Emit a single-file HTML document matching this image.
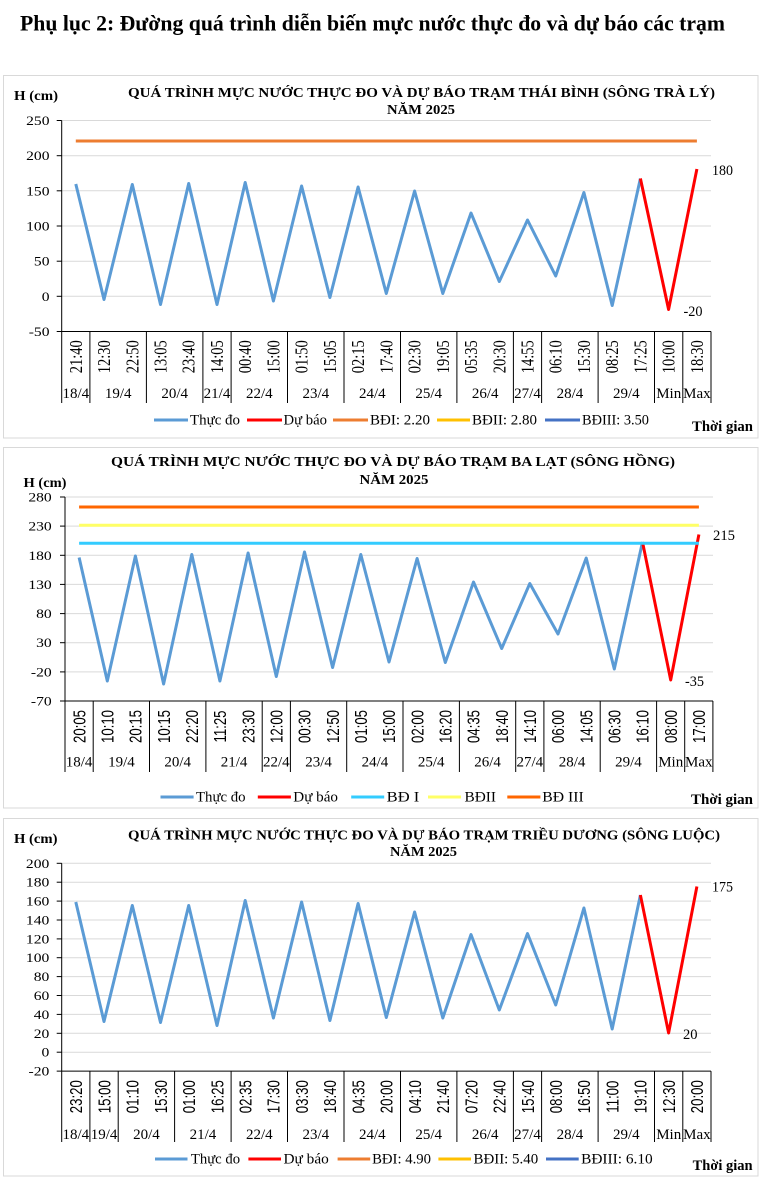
<!DOCTYPE html>
<html>
<head>
<meta charset="utf-8">
<style>
html,body{margin:0;padding:0;background:#fff;}
svg{display:block;}
.t{font-family:"Liberation Serif","Times New Roman",serif;fill:#000;}
.s{font-family:"Liberation Sans",Arial,sans-serif;fill:#000;}
.b{font-weight:bold;}
</style>
</head>
<body>
<svg width="763" height="1185" viewBox="0 0 763 1185" xmlns="http://www.w3.org/2000/svg">
<rect x="0" y="0" width="763" height="1185" fill="#fff"/>

<!-- Page title -->
<text class="t b" x="20" y="30.5" font-size="22" textLength="705" lengthAdjust="spacingAndGlyphs">Phụ lục 2: Đường quá trình diễn biến mực nước thực đo và dự báo các trạm</text>

<!-- ================= CHART 1 ================= -->
<rect x="3.5" y="75.5" width="754.5" height="362.5" fill="#fff" stroke="#d9d9d9" stroke-width="1"/>
<text class="t b" x="14" y="100" font-size="14" textLength="44" lengthAdjust="spacingAndGlyphs">H (cm)</text>
<text class="t b" x="128" y="97" font-size="13.5" textLength="587" lengthAdjust="spacingAndGlyphs">QUÁ TRÌNH MỰC NƯỚC THỰC ĐO VÀ DỰ BÁO TRẠM THÁI BÌNH (SÔNG TRÀ LÝ)</text>
<text class="t b" x="387" y="114" font-size="13.5" textLength="68" lengthAdjust="spacingAndGlyphs">NĂM 2025</text>

<g stroke="#d9d9d9" stroke-width="1">
<line x1="61.7" y1="120.5" x2="711" y2="120.5"/>
<line x1="61.7" y1="155.7" x2="711" y2="155.7"/>
<line x1="61.7" y1="190.8" x2="711" y2="190.8"/>
<line x1="61.7" y1="226" x2="711" y2="226"/>
<line x1="61.7" y1="261.2" x2="711" y2="261.2"/>
<line x1="61.7" y1="296.3" x2="711" y2="296.3"/>
</g>
<g stroke="#000" stroke-width="1">
<line x1="61.7" y1="120.5" x2="61.7" y2="331.5"/>
<line x1="56.7" y1="120.5" x2="61.7" y2="120.5"/>
<line x1="56.7" y1="155.7" x2="61.7" y2="155.7"/>
<line x1="56.7" y1="190.8" x2="61.7" y2="190.8"/>
<line x1="56.7" y1="226" x2="61.7" y2="226"/>
<line x1="56.7" y1="261.2" x2="61.7" y2="261.2"/>
<line x1="56.7" y1="296.3" x2="61.7" y2="296.3"/>
<line x1="56.7" y1="331.5" x2="711" y2="331.5"/>
<line x1="61.7" y1="331.5" x2="61.7" y2="403"/>
<line x1="89.9" y1="331.5" x2="89.9" y2="403"/>
<line x1="146.4" y1="331.5" x2="146.4" y2="403"/>
<line x1="202.9" y1="331.5" x2="202.9" y2="403"/>
<line x1="231.1" y1="331.5" x2="231.1" y2="403"/>
<line x1="287.5" y1="331.5" x2="287.5" y2="403"/>
<line x1="344" y1="331.5" x2="344" y2="403"/>
<line x1="400.5" y1="331.5" x2="400.5" y2="403"/>
<line x1="456.9" y1="331.5" x2="456.9" y2="403"/>
<line x1="513.4" y1="331.5" x2="513.4" y2="403"/>
<line x1="541.6" y1="331.5" x2="541.6" y2="403"/>
<line x1="598.1" y1="331.5" x2="598.1" y2="403"/>
<line x1="654.5" y1="331.5" x2="654.5" y2="403"/>
<line x1="682.8" y1="331.5" x2="682.8" y2="403"/>
<line x1="711" y1="331.5" x2="711" y2="403"/>
</g>
<g class="t" font-size="13" text-anchor="end">
<text transform="translate(49.5,125) scale(1.2,1)">250</text>
<text transform="translate(49.5,160.2) scale(1.2,1)">200</text>
<text transform="translate(49.5,195.3) scale(1.2,1)">150</text>
<text transform="translate(49.5,230.5) scale(1.2,1)">100</text>
<text transform="translate(49.5,265.7) scale(1.2,1)">50</text>
<text transform="translate(49.5,300.8) scale(1.2,1)">0</text>
<text transform="translate(49.5,336) scale(1.2,1)">-50</text>
</g>
<g class="t" font-size="14.5" text-anchor="middle">
<text transform="translate(81.8,356.7) scale(1.22,1) rotate(-90)">21:40</text>
<text transform="translate(110,356.7) scale(1.22,1) rotate(-90)">12:30</text>
<text transform="translate(138.3,356.7) scale(1.22,1) rotate(-90)">22:50</text>
<text transform="translate(166.5,356.7) scale(1.22,1) rotate(-90)">13:05</text>
<text transform="translate(194.7,356.7) scale(1.22,1) rotate(-90)">23:40</text>
<text transform="translate(223,356.7) scale(1.22,1) rotate(-90)">14:05</text>
<text transform="translate(251.2,356.7) scale(1.22,1) rotate(-90)">00:40</text>
<text transform="translate(279.4,356.7) scale(1.22,1) rotate(-90)">15:00</text>
<text transform="translate(307.6,356.7) scale(1.22,1) rotate(-90)">01:50</text>
<text transform="translate(335.9,356.7) scale(1.22,1) rotate(-90)">15:05</text>
<text transform="translate(364.1,356.7) scale(1.22,1) rotate(-90)">02:15</text>
<text transform="translate(392.3,356.7) scale(1.22,1) rotate(-90)">17:40</text>
<text transform="translate(420.6,356.7) scale(1.22,1) rotate(-90)">02:30</text>
<text transform="translate(448.8,356.7) scale(1.22,1) rotate(-90)">19:05</text>
<text transform="translate(477,356.7) scale(1.22,1) rotate(-90)">05:35</text>
<text transform="translate(505.3,356.7) scale(1.22,1) rotate(-90)">20:30</text>
<text transform="translate(533.5,356.7) scale(1.22,1) rotate(-90)">14:55</text>
<text transform="translate(561.7,356.7) scale(1.22,1) rotate(-90)">06:10</text>
<text transform="translate(589.9,356.7) scale(1.22,1) rotate(-90)">15:30</text>
<text transform="translate(618.2,356.7) scale(1.22,1) rotate(-90)">08:25</text>
<text transform="translate(646.4,356.7) scale(1.22,1) rotate(-90)">17:25</text>
<text transform="translate(674.6,356.7) scale(1.22,1) rotate(-90)">10:00</text>
<text transform="translate(702.9,356.7) scale(1.22,1) rotate(-90)">18:30</text>
</g>
<g class="t" font-size="15" text-anchor="middle">
<text x="75.8" y="398">18/4</text>
<text x="118.2" y="398">19/4</text>
<text x="174.7" y="398">20/4</text>
<text x="217" y="398">21/4</text>
<text x="259.3" y="398">22/4</text>
<text x="315.8" y="398">23/4</text>
<text x="372.3" y="398">24/4</text>
<text x="428.7" y="398">25/4</text>
<text x="485.2" y="398">26/4</text>
<text x="527.5" y="398">27/4</text>
<text x="569.9" y="398">28/4</text>
<text x="626.3" y="398">29/4</text>
<text x="668.7" y="398">Min</text>
<text x="696.9" y="398">Max</text>
</g>
<polyline fill="none" stroke="#5B9BD5" stroke-width="3" stroke-linejoin="round" points="75.8,184 104.0,299.5 132.3,184.5 160.5,304.5 188.7,183.5 217.0,304.5 245.2,182.5 273.4,301 301.6,186 329.9,297.5 358.1,187 386.3,293.5 414.6,191 442.8,293.5 471.0,213 499.3,281.5 527.5,220 555.7,276 583.9,192.5 612.2,305.5 640.4,178.5"/>
<polyline fill="none" stroke="#FF0000" stroke-width="3" stroke-linejoin="round" points="640.4,178.5 668.6,309.5 696.9,169"/>
<line x1="75.8" y1="141" x2="696.9" y2="141" stroke="#ED7D31" stroke-width="3"/>
<text class="t" x="712" y="175" font-size="14.5" textLength="21" lengthAdjust="spacingAndGlyphs">180</text>
<text class="t" x="683.5" y="316" font-size="14.5" textLength="19" lengthAdjust="spacingAndGlyphs">-20</text>
<!-- legend 1 -->
<g stroke-width="3">
<line x1="154" y1="420" x2="188" y2="420" stroke="#5B9BD5"/>
<line x1="247" y1="420" x2="282" y2="420" stroke="#FF0000"/>
<line x1="333" y1="420" x2="368" y2="420" stroke="#ED7D31"/>
<line x1="437" y1="420" x2="470" y2="420" stroke="#FFC000"/>
<line x1="545" y1="420" x2="580" y2="420" stroke="#4472C4"/>
</g>
<g class="t" font-size="14.5">
<text x="190" y="424.5" textLength="50" lengthAdjust="spacingAndGlyphs">Thực đo</text>
<text x="283.5" y="424.5" textLength="43.5" lengthAdjust="spacingAndGlyphs">Dự báo</text>
<text x="370" y="424.5" textLength="60" lengthAdjust="spacingAndGlyphs">BĐI: 2.20</text>
<text x="472" y="424.5" textLength="65" lengthAdjust="spacingAndGlyphs">BĐII: 2.80</text>
<text x="582" y="424.5" textLength="67" lengthAdjust="spacingAndGlyphs">BĐIII: 3.50</text>
</g>
<text class="t b" x="692" y="431" font-size="14.5" textLength="61" lengthAdjust="spacingAndGlyphs">Thời gian</text>

<!-- ================= CHART 2 ================= -->
<rect x="3.5" y="447.5" width="754.5" height="360.5" fill="#fff" stroke="#d9d9d9" stroke-width="1"/>
<text class="t b" x="23.5" y="487" font-size="14" textLength="43" lengthAdjust="spacingAndGlyphs">H (cm)</text>
<text class="t b" x="111" y="466" font-size="13.5" textLength="564" lengthAdjust="spacingAndGlyphs">QUÁ TRÌNH MỰC NƯỚC THỰC ĐO VÀ DỰ BÁO TRẠM BA LẠT (SÔNG HỒNG)</text>
<text class="t b" x="359.5" y="484" font-size="13.5" textLength="69" lengthAdjust="spacingAndGlyphs">NĂM 2025</text>

<g stroke="#d9d9d9" stroke-width="1">
<line x1="65" y1="497" x2="713" y2="497"/>
<line x1="65" y1="526.1" x2="713" y2="526.1"/>
<line x1="65" y1="555.3" x2="713" y2="555.3"/>
<line x1="65" y1="584.4" x2="713" y2="584.4"/>
<line x1="65" y1="613.6" x2="713" y2="613.6"/>
<line x1="65" y1="642.7" x2="713" y2="642.7"/>
<line x1="65" y1="671.9" x2="713" y2="671.9"/>
</g>
<g stroke="#000" stroke-width="1">
<line x1="65" y1="497" x2="65" y2="701"/>
<line x1="60" y1="497" x2="65" y2="497"/>
<line x1="60" y1="526.1" x2="65" y2="526.1"/>
<line x1="60" y1="555.3" x2="65" y2="555.3"/>
<line x1="60" y1="584.4" x2="65" y2="584.4"/>
<line x1="60" y1="613.6" x2="65" y2="613.6"/>
<line x1="60" y1="642.7" x2="65" y2="642.7"/>
<line x1="60" y1="671.9" x2="65" y2="671.9"/>
<line x1="60" y1="701" x2="713" y2="701"/>
<line x1="65" y1="701" x2="65" y2="772"/>
<line x1="93.2" y1="701" x2="93.2" y2="772"/>
<line x1="149.5" y1="701" x2="149.5" y2="772"/>
<line x1="205.9" y1="701" x2="205.9" y2="772"/>
<line x1="262.2" y1="701" x2="262.2" y2="772"/>
<line x1="290.4" y1="701" x2="290.4" y2="772"/>
<line x1="346.7" y1="701" x2="346.7" y2="772"/>
<line x1="403" y1="701" x2="403" y2="772"/>
<line x1="459.4" y1="701" x2="459.4" y2="772"/>
<line x1="515.7" y1="701" x2="515.7" y2="772"/>
<line x1="543.9" y1="701" x2="543.9" y2="772"/>
<line x1="600.2" y1="701" x2="600.2" y2="772"/>
<line x1="656.6" y1="701" x2="656.6" y2="772"/>
<line x1="684.7" y1="701" x2="684.7" y2="772"/>
<line x1="712.9" y1="701" x2="712.9" y2="772"/>
</g>
<g class="t" font-size="13" text-anchor="end">
<text transform="translate(51.7,501.5) scale(1.2,1)">280</text>
<text transform="translate(51.7,530.6) scale(1.2,1)">230</text>
<text transform="translate(51.7,559.8) scale(1.2,1)">180</text>
<text transform="translate(51.7,588.9) scale(1.2,1)">130</text>
<text transform="translate(51.7,618.1) scale(1.2,1)">80</text>
<text transform="translate(51.7,647.2) scale(1.2,1)">30</text>
<text transform="translate(51.7,676.4) scale(1.2,1)">-20</text>
<text transform="translate(51.7,705.5) scale(1.2,1)">-70</text>
</g>
<g class="s" font-size="13.2" text-anchor="middle">
<text transform="translate(85.3,726.5) scale(1.3,1) rotate(-90)">20:05</text>
<text transform="translate(113.5,726.5) scale(1.3,1) rotate(-90)">10:10</text>
<text transform="translate(141.6,726.5) scale(1.3,1) rotate(-90)">20:15</text>
<text transform="translate(169.8,726.5) scale(1.3,1) rotate(-90)">10:15</text>
<text transform="translate(198,726.5) scale(1.3,1) rotate(-90)">22:20</text>
<text transform="translate(226.1,726.5) scale(1.3,1) rotate(-90)">11:25</text>
<text transform="translate(254.3,726.5) scale(1.3,1) rotate(-90)">23:30</text>
<text transform="translate(282.5,726.5) scale(1.3,1) rotate(-90)">12:00</text>
<text transform="translate(310.7,726.5) scale(1.3,1) rotate(-90)">00:30</text>
<text transform="translate(338.8,726.5) scale(1.3,1) rotate(-90)">12:50</text>
<text transform="translate(367,726.5) scale(1.3,1) rotate(-90)">01:05</text>
<text transform="translate(395.2,726.5) scale(1.3,1) rotate(-90)">15:00</text>
<text transform="translate(423.3,726.5) scale(1.3,1) rotate(-90)">02:00</text>
<text transform="translate(451.5,726.5) scale(1.3,1) rotate(-90)">16:20</text>
<text transform="translate(479.7,726.5) scale(1.3,1) rotate(-90)">04:35</text>
<text transform="translate(507.9,726.5) scale(1.3,1) rotate(-90)">18:40</text>
<text transform="translate(536,726.5) scale(1.3,1) rotate(-90)">14:10</text>
<text transform="translate(564.2,726.5) scale(1.3,1) rotate(-90)">06:00</text>
<text transform="translate(592.4,726.5) scale(1.3,1) rotate(-90)">14:05</text>
<text transform="translate(620.5,726.5) scale(1.3,1) rotate(-90)">06:30</text>
<text transform="translate(648.7,726.5) scale(1.3,1) rotate(-90)">16:10</text>
<text transform="translate(676.9,726.5) scale(1.3,1) rotate(-90)">08:00</text>
<text transform="translate(705.1,726.5) scale(1.3,1) rotate(-90)">17:00</text>
</g>
<g class="t" font-size="15" text-anchor="middle">
<text x="79.1" y="766.5">18/4</text>
<text x="121.4" y="766.5">19/4</text>
<text x="177.7" y="766.5">20/4</text>
<text x="234.1" y="766.5">21/4</text>
<text x="276.3" y="766.5">22/4</text>
<text x="318.6" y="766.5">23/4</text>
<text x="374.9" y="766.5">24/4</text>
<text x="431.2" y="766.5">25/4</text>
<text x="487.6" y="766.5">26/4</text>
<text x="529.8" y="766.5">27/4</text>
<text x="572.1" y="766.5">28/4</text>
<text x="628.4" y="766.5">29/4</text>
<text x="670.7" y="766.5">Min</text>
<text x="698.8" y="766.5">Max</text>
</g>
<polyline fill="none" stroke="#5B9BD5" stroke-width="3" stroke-linejoin="round" points="79.1,557.5 107.3,681 135.4,556 163.6,684 191.8,554.5 219.9,681 248.1,553 276.3,676.5 304.5,552 332.6,667.5 360.8,554.5 389.0,662 417.1,558.5 445.3,662.5 473.5,582 501.7,648.5 529.8,583.5 558.0,634 586.2,558 614.3,669 642.5,542"/>
<polyline fill="none" stroke="#FF0000" stroke-width="3" stroke-linejoin="round" points="642.5,542 670.7,680 698.9,534.5"/>
<line x1="79.1" y1="543.3" x2="698.9" y2="543.3" stroke="#33CCFF" stroke-width="3"/>
<line x1="79.1" y1="525.3" x2="698.9" y2="525.3" stroke="#FFFF66" stroke-width="3"/>
<line x1="79.1" y1="507" x2="698.9" y2="507" stroke="#FF6600" stroke-width="3"/>
<text class="t" x="713" y="540" font-size="14.5" textLength="22" lengthAdjust="spacingAndGlyphs">215</text>
<text class="t" x="685" y="686" font-size="14.5" textLength="19" lengthAdjust="spacingAndGlyphs">-35</text>
<!-- legend 2 -->
<g stroke-width="3">
<line x1="160.5" y1="797" x2="193.6" y2="797" stroke="#5B9BD5"/>
<line x1="257.8" y1="797" x2="290.9" y2="797" stroke="#FF0000"/>
<line x1="351.2" y1="797" x2="384.2" y2="797" stroke="#33CCFF"/>
<line x1="428" y1="797" x2="461" y2="797" stroke="#FFFF66"/>
<line x1="507.3" y1="797" x2="540.4" y2="797" stroke="#FF6600"/>
</g>
<g class="t" font-size="14.5">
<text x="196" y="801.5" textLength="49.6" lengthAdjust="spacingAndGlyphs">Thực đo</text>
<text x="293.3" y="801.5" textLength="44.7" lengthAdjust="spacingAndGlyphs">Dự báo</text>
<text x="386.7" y="801.5" textLength="32.6" lengthAdjust="spacingAndGlyphs">BĐ I</text>
<text x="464.5" y="801.5" textLength="31.5" lengthAdjust="spacingAndGlyphs">BĐII</text>
<text x="542.3" y="801.5" textLength="41.4" lengthAdjust="spacingAndGlyphs">BĐ III</text>
</g>
<text class="t b" x="691" y="804" font-size="14.5" textLength="62" lengthAdjust="spacingAndGlyphs">Thời gian</text>

<!-- ================= CHART 3 ================= -->
<rect x="3.5" y="818.5" width="754.5" height="357.5" fill="#fff" stroke="#d9d9d9" stroke-width="1"/>
<text class="t b" x="14" y="843" font-size="14" textLength="43.5" lengthAdjust="spacingAndGlyphs">H (cm)</text>
<text class="t b" x="128" y="839.5" font-size="13.5" textLength="592" lengthAdjust="spacingAndGlyphs">QUÁ TRÌNH MỰC NƯỚC THỰC ĐO VÀ DỰ BÁO TRẠM TRIỀU DƯƠNG  (SÔNG LUỘC)</text>
<text class="t b" x="390" y="856" font-size="13.5" textLength="67" lengthAdjust="spacingAndGlyphs">NĂM 2025</text>

<g stroke="#d9d9d9" stroke-width="1">
<line x1="61.7" y1="863.3" x2="711" y2="863.3"/>
<line x1="61.7" y1="882.2" x2="711" y2="882.2"/>
<line x1="61.7" y1="901.1" x2="711" y2="901.1"/>
<line x1="61.7" y1="920" x2="711" y2="920"/>
<line x1="61.7" y1="938.9" x2="711" y2="938.9"/>
<line x1="61.7" y1="957.7" x2="711" y2="957.7"/>
<line x1="61.7" y1="976.6" x2="711" y2="976.6"/>
<line x1="61.7" y1="995.5" x2="711" y2="995.5"/>
<line x1="61.7" y1="1014.4" x2="711" y2="1014.4"/>
<line x1="61.7" y1="1033.3" x2="711" y2="1033.3"/>
<line x1="61.7" y1="1052.2" x2="711" y2="1052.2"/>
</g>
<g stroke="#000" stroke-width="1">
<line x1="61.7" y1="863.3" x2="61.7" y2="1071.1"/>
<line x1="56.7" y1="863.3" x2="61.7" y2="863.3"/>
<line x1="56.7" y1="882.2" x2="61.7" y2="882.2"/>
<line x1="56.7" y1="901.1" x2="61.7" y2="901.1"/>
<line x1="56.7" y1="920" x2="61.7" y2="920"/>
<line x1="56.7" y1="938.9" x2="61.7" y2="938.9"/>
<line x1="56.7" y1="957.7" x2="61.7" y2="957.7"/>
<line x1="56.7" y1="976.6" x2="61.7" y2="976.6"/>
<line x1="56.7" y1="995.5" x2="61.7" y2="995.5"/>
<line x1="56.7" y1="1014.4" x2="61.7" y2="1014.4"/>
<line x1="56.7" y1="1033.3" x2="61.7" y2="1033.3"/>
<line x1="56.7" y1="1052.2" x2="61.7" y2="1052.2"/>
<line x1="56.7" y1="1071.1" x2="711" y2="1071.1"/>
<line x1="61.7" y1="1071.1" x2="61.7" y2="1142"/>
<line x1="89.9" y1="1071.1" x2="89.9" y2="1142"/>
<line x1="118.2" y1="1071.1" x2="118.2" y2="1142"/>
<line x1="174.6" y1="1071.1" x2="174.6" y2="1142"/>
<line x1="231.1" y1="1071.1" x2="231.1" y2="1142"/>
<line x1="287.5" y1="1071.1" x2="287.5" y2="1142"/>
<line x1="344" y1="1071.1" x2="344" y2="1142"/>
<line x1="400.5" y1="1071.1" x2="400.5" y2="1142"/>
<line x1="456.9" y1="1071.1" x2="456.9" y2="1142"/>
<line x1="513.4" y1="1071.1" x2="513.4" y2="1142"/>
<line x1="541.6" y1="1071.1" x2="541.6" y2="1142"/>
<line x1="598.1" y1="1071.1" x2="598.1" y2="1142"/>
<line x1="654.5" y1="1071.1" x2="654.5" y2="1142"/>
<line x1="682.8" y1="1071.1" x2="682.8" y2="1142"/>
<line x1="711" y1="1071.1" x2="711" y2="1142"/>
</g>
<g class="t" font-size="13" text-anchor="end">
<text transform="translate(49.3,867.8) scale(1.2,1)">200</text>
<text transform="translate(49.3,886.7) scale(1.2,1)">180</text>
<text transform="translate(49.3,905.6) scale(1.2,1)">160</text>
<text transform="translate(49.3,924.5) scale(1.2,1)">140</text>
<text transform="translate(49.3,943.4) scale(1.2,1)">120</text>
<text transform="translate(49.3,962.2) scale(1.2,1)">100</text>
<text transform="translate(49.3,981.1) scale(1.2,1)">80</text>
<text transform="translate(49.3,1000) scale(1.2,1)">60</text>
<text transform="translate(49.3,1018.9) scale(1.2,1)">40</text>
<text transform="translate(49.3,1037.8) scale(1.2,1)">20</text>
<text transform="translate(49.3,1056.7) scale(1.2,1)">0</text>
<text transform="translate(49.3,1075.6) scale(1.2,1)">-20</text>
</g>
<g class="s" font-size="13.2" text-anchor="middle">
<text transform="translate(82.1,1096.7) scale(1.35,1) rotate(-90)">23:20</text>
<text transform="translate(110.3,1096.7) scale(1.35,1) rotate(-90)">15:00</text>
<text transform="translate(138.6,1096.7) scale(1.35,1) rotate(-90)">01:10</text>
<text transform="translate(166.8,1096.7) scale(1.35,1) rotate(-90)">15:30</text>
<text transform="translate(195,1096.7) scale(1.35,1) rotate(-90)">01:00</text>
<text transform="translate(223.3,1096.7) scale(1.35,1) rotate(-90)">16:25</text>
<text transform="translate(251.5,1096.7) scale(1.35,1) rotate(-90)">02:35</text>
<text transform="translate(279.7,1096.7) scale(1.35,1) rotate(-90)">17:30</text>
<text transform="translate(307.9,1096.7) scale(1.35,1) rotate(-90)">03:30</text>
<text transform="translate(336.2,1096.7) scale(1.35,1) rotate(-90)">18:40</text>
<text transform="translate(364.4,1096.7) scale(1.35,1) rotate(-90)">04:35</text>
<text transform="translate(392.6,1096.7) scale(1.35,1) rotate(-90)">20:00</text>
<text transform="translate(420.9,1096.7) scale(1.35,1) rotate(-90)">04:10</text>
<text transform="translate(449.1,1096.7) scale(1.35,1) rotate(-90)">21:40</text>
<text transform="translate(477.3,1096.7) scale(1.35,1) rotate(-90)">07:20</text>
<text transform="translate(505.6,1096.7) scale(1.35,1) rotate(-90)">22:40</text>
<text transform="translate(533.8,1096.7) scale(1.35,1) rotate(-90)">15:40</text>
<text transform="translate(562,1096.7) scale(1.35,1) rotate(-90)">08:00</text>
<text transform="translate(590.2,1096.7) scale(1.35,1) rotate(-90)">16:50</text>
<text transform="translate(618.5,1096.7) scale(1.35,1) rotate(-90)">11:00</text>
<text transform="translate(646.7,1096.7) scale(1.35,1) rotate(-90)">19:10</text>
<text transform="translate(674.9,1096.7) scale(1.35,1) rotate(-90)">12:30</text>
<text transform="translate(703.2,1096.7) scale(1.35,1) rotate(-90)">20:00</text>
</g>
<g class="t" font-size="15" text-anchor="middle">
<text x="75.8" y="1139">18/4</text>
<text x="104.1" y="1139">19/4</text>
<text x="146.4" y="1139">20/4</text>
<text x="202.9" y="1139">21/4</text>
<text x="259.3" y="1139">22/4</text>
<text x="315.8" y="1139">23/4</text>
<text x="372.3" y="1139">24/4</text>
<text x="428.7" y="1139">25/4</text>
<text x="485.2" y="1139">26/4</text>
<text x="527.5" y="1139">27/4</text>
<text x="569.9" y="1139">28/4</text>
<text x="626.3" y="1139">29/4</text>
<text x="668.7" y="1139">Min</text>
<text x="696.9" y="1139">Max</text>
</g>
<polyline fill="none" stroke="#5B9BD5" stroke-width="3" stroke-linejoin="round" points="75.8,902 104.0,1021.5 132.3,905.5 160.5,1022.5 188.7,905.5 217.0,1025.5 245.2,900.5 273.4,1018 301.6,902 329.9,1020.5 358.1,903.5 386.3,1017.5 414.6,912 442.8,1018 471.0,934.5 499.3,1010 527.5,933.5 555.7,1005 583.9,908 612.2,1029 640.4,895"/>
<polyline fill="none" stroke="#FF0000" stroke-width="3" stroke-linejoin="round" points="640.4,895 668.6,1033 696.9,886.5"/>
<text class="t" x="712" y="891.5" font-size="14.5" textLength="21" lengthAdjust="spacingAndGlyphs">175</text>
<text class="t" x="683" y="1039" font-size="14.5" textLength="14.5" lengthAdjust="spacingAndGlyphs">20</text>
<!-- legend 3 -->
<g stroke-width="3">
<line x1="155" y1="1159" x2="187.5" y2="1159" stroke="#5B9BD5"/>
<line x1="248.4" y1="1159" x2="281" y2="1159" stroke="#FF0000"/>
<line x1="337.6" y1="1159" x2="370.2" y2="1159" stroke="#ED7D31"/>
<line x1="438.4" y1="1159" x2="471" y2="1159" stroke="#FFC000"/>
<line x1="546" y1="1159" x2="578.7" y2="1159" stroke="#4472C4"/>
</g>
<g class="t" font-size="14.5">
<text x="190.9" y="1163.5" textLength="49.2" lengthAdjust="spacingAndGlyphs">Thực đo</text>
<text x="283.5" y="1163.5" textLength="45.3" lengthAdjust="spacingAndGlyphs">Dự báo</text>
<text x="372.1" y="1163.5" textLength="58.9" lengthAdjust="spacingAndGlyphs">BĐI: 4.90</text>
<text x="473.5" y="1163.5" textLength="64.7" lengthAdjust="spacingAndGlyphs">BĐII: 5.40</text>
<text x="581.1" y="1163.5" textLength="71.6" lengthAdjust="spacingAndGlyphs">BĐIII: 6.10</text>
</g>
<text class="t b" x="692.6" y="1170" font-size="14.5" textLength="60" lengthAdjust="spacingAndGlyphs">Thời gian</text>
</svg>
</body>
</html>
